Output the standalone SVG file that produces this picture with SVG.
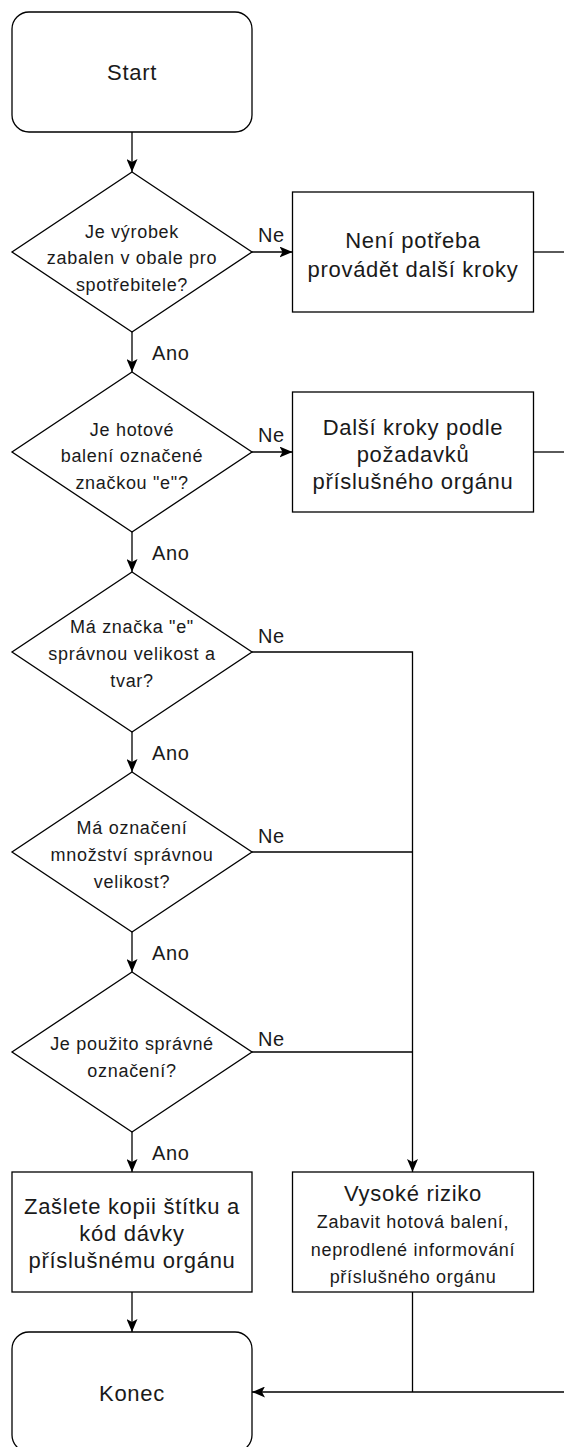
<svg xmlns="http://www.w3.org/2000/svg" width="564" height="1447" viewBox="0 0 564 1447">
  <style>
    .shape { fill: #ffffff; stroke: #000000; stroke-width: 1.3; }
    .edge { fill: none; stroke: #000000; stroke-width: 1.3; }
    .arrow { marker-end: url(#arrowhead); }
    text { font-family: "Liberation Sans", Arial, sans-serif; fill: #1a1a1a; text-anchor: middle; }
    .big { font-size: 22px; letter-spacing: 0.7px; }
    .small { font-size: 18px; letter-spacing: 0.7px; }
    .lbl { font-size: 20px; letter-spacing: 0.6px; text-anchor: start; }
  </style>
  <defs>
    <marker id="arrowhead" markerUnits="userSpaceOnUse" markerWidth="13" markerHeight="11" viewBox="0 0 13 11" refX="13" refY="5.5" orient="auto">
      <path d="M0,0 L13,5.5 L0,11 L3,5.5 z" fill="#000000"/>
    </marker>
  </defs>
  <rect width="564" height="1447" fill="#ffffff"/>

  <g id="connectors">
    <path class="edge arrow" d="M132,132 V172"/>
    <path class="edge arrow" d="M252,252 H292.5"/>
    <path class="edge" d="M533.5,252 H564"/>
    <path class="edge arrow" d="M132,332 V372"/>
    <path class="edge arrow" d="M252,452 H292.5"/>
    <path class="edge" d="M533.5,452 H564"/>
    <path class="edge arrow" d="M132,532 V572"/>
    <path class="edge arrow" d="M252,652 H412.5 V1172"/>
    <path class="edge arrow" d="M132,732 V772"/>
    <path class="edge" d="M252,852 H412.5"/>
    <path class="edge arrow" d="M132,932 V972"/>
    <path class="edge" d="M252,1052 H412.5"/>
    <path class="edge arrow" d="M132,1132 V1172"/>
    <path class="edge arrow" d="M132,1292 V1332"/>
    <path class="edge" d="M412.5,1292 V1392"/>
    <path class="edge arrow" d="M564,1392 H252"/>
    <text class="lbl" x="258" y="242">Ne</text>
    <text class="lbl" x="258" y="442">Ne</text>
    <text class="lbl" x="258" y="643">Ne</text>
    <text class="lbl" x="258" y="843">Ne</text>
    <text class="lbl" x="258" y="1046">Ne</text>
    <text class="lbl" x="152" y="360">Ano</text>
    <text class="lbl" x="152" y="560">Ano</text>
    <text class="lbl" x="152" y="760">Ano</text>
    <text class="lbl" x="152" y="960">Ano</text>
    <text class="lbl" x="152" y="1160">Ano</text>
  </g>

  <g id="start">
    <rect class="shape" x="12" y="12" width="240" height="120" rx="17" ry="17"/>
    <text class="big" x="132" y="80">Start</text>
  </g>

  <g id="d1">
    <polygon class="shape" points="132,172 252,252 132,332 12,252"/>
    <text class="small" x="132" y="237.5">Je výrobek</text>
    <text class="small" x="132" y="264">zabalen v obale pro</text>
    <text class="small" x="132" y="290.5">spotřebitele?</text>
  </g>

  <g id="box1">
    <rect class="shape" x="292.5" y="192" width="241" height="120"/>
    <text class="big" x="413" y="248">Není potřeba</text>
    <text class="big" x="413" y="277">provádět další kroky</text>
  </g>

  <g id="d2">
    <polygon class="shape" points="132,372 252,452 132,532 12,452"/>
    <text class="small" x="132" y="435.5">Je hotové</text>
    <text class="small" x="132" y="462">balení označené</text>
    <text class="small" x="132" y="488.5">značkou "e"?</text>
  </g>

  <g id="box2">
    <rect class="shape" x="292.5" y="392" width="241" height="120"/>
    <text class="big" x="413" y="434.5">Další kroky podle</text>
    <text class="big" x="413" y="461.5">požadavků</text>
    <text class="big" x="413" y="488.5">příslušného orgánu</text>
  </g>

  <g id="d3">
    <polygon class="shape" points="132,572 252,652 132,732 12,652"/>
    <text class="small" x="132" y="633">Má značka "e"</text>
    <text class="small" x="132" y="660">správnou velikost a</text>
    <text class="small" x="132" y="687">tvar?</text>
  </g>

  <g id="d4">
    <polygon class="shape" points="132,772 252,852 132,932 12,852"/>
    <text class="small" x="132" y="834">Má označení</text>
    <text class="small" x="132" y="861">množství správnou</text>
    <text class="small" x="132" y="888">velikost?</text>
  </g>

  <g id="d5">
    <polygon class="shape" points="132,972 252,1052 132,1132 12,1052"/>
    <text class="small" x="132" y="1050">Je použito správné</text>
    <text class="small" x="132" y="1077">označení?</text>
  </g>

  <g id="send">
    <rect class="shape" x="12" y="1172" width="240" height="120"/>
    <text class="big" x="132" y="1214">Zašlete kopii štítku a</text>
    <text class="big" x="132" y="1241">kód dávky</text>
    <text class="big" x="132" y="1268">příslušnému orgánu</text>
  </g>

  <g id="risk">
    <rect class="shape" x="292.5" y="1172" width="241" height="120"/>
    <text class="big" x="413" y="1201">Vysoké riziko</text>
    <text class="small" x="413" y="1228">Zabavit hotová balení,</text>
    <text class="small" x="413" y="1255.5">neprodlené informování</text>
    <text class="small" x="413" y="1283">příslušného orgánu</text>
  </g>

  <g id="end">
    <rect class="shape" x="12" y="1332" width="240" height="120" rx="17" ry="17"/>
    <text class="big" x="132" y="1401">Konec</text>
  </g>
</svg>
